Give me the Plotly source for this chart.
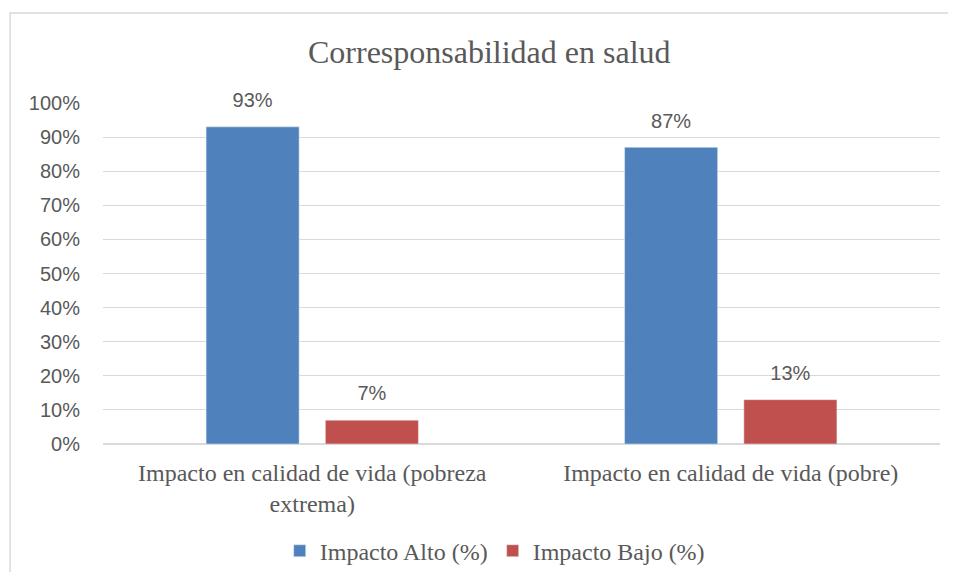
import plotly.graph_objects as go

# Corresponsabilidad en salud
categorias = ["Impacto en calidad de vida (pobreza<br>extrema)",
              "Impacto en calidad de vida (pobre)"]
impacto_alto = [0.93, 0.87]
impacto_bajo = [0.07, 0.13]
y_ticks = [i / 10 for i in range(11)]
y_labels = [f"{i * 10}%" for i in range(11)]

gris = '#595959'
serif = 'Liberation Serif, Times New Roman, serif'
sans = 'Liberation Sans, Arial, sans-serif'

fig = go.Figure()

series = [("Impacto Alto (%)", impacto_alto, '#4f81bd', 'alto'),
          ("Impacto Bajo (%)", impacto_bajo, '#c0504d', 'bajo')]

for nombre, valores, color, grupo in series:
    fig.add_trace(go.Bar(
        x=categorias, y=valores, name=nombre,
        marker=dict(color=color), offsetgroup=grupo,
    ))

# étiquettes de données, un peu au-dessus des barres
for nombre, valores, color, grupo in series:
    fig.add_trace(go.Scatter(
        x=categorias, y=valores, mode='markers+text', offsetgroup=grupo,
        marker=dict(size=22, opacity=0), showlegend=False, hoverinfo='skip',
        text=[f"{round(v * 100)}%" for v in valores],
        textposition='top center', cliponaxis=False,
        textfont=dict(family=sans, size=20, color=gris),
    ))

# cadre gris (bords gauche et haut seulement visibles dans l'image)
fig.add_shape(type='path', xref='paper', yref='paper',
              path="M -0.111,-0.5 L -0.111,1.264 L 1.1,1.264",
              line=dict(color='#d9d9d9', width=1.5))

fig.update_layout(
    title=dict(text="Corresponsabilidad en salud", x=0.512, xanchor='center',
               y=0.922, yanchor='middle',
               font=dict(family=serif, size=32, color=gris)),
    barmode='group', bargap=0.43, bargroupgap=0.22, scattermode='group',
    xaxis=dict(tickfont=dict(family=serif, size=24, color=gris),
               showline=False, ticklabelstandoff=12, automargin=False),
    yaxis=dict(range=[0, 1], tickvals=y_ticks, ticktext=y_labels,
               tickfont=dict(family=sans, size=20, color=gris),
               gridcolor='#d9d9d9', gridwidth=1, zeroline=True,
               zerolinecolor='#d9d9d9', ticklabelstandoff=22, automargin=False),
    legend=dict(orientation='h', x=0.468, xanchor='center',
                yref='container', y=0.037, yanchor='middle',
                font=dict(family=serif, size=24, color=gris), itemwidth=30),
    plot_bgcolor='white', paper_bgcolor='white',
    width=940, height=564,
    margin=dict(l=95, r=8, t=95, b=128),
)

fig.write_html("out.html")
